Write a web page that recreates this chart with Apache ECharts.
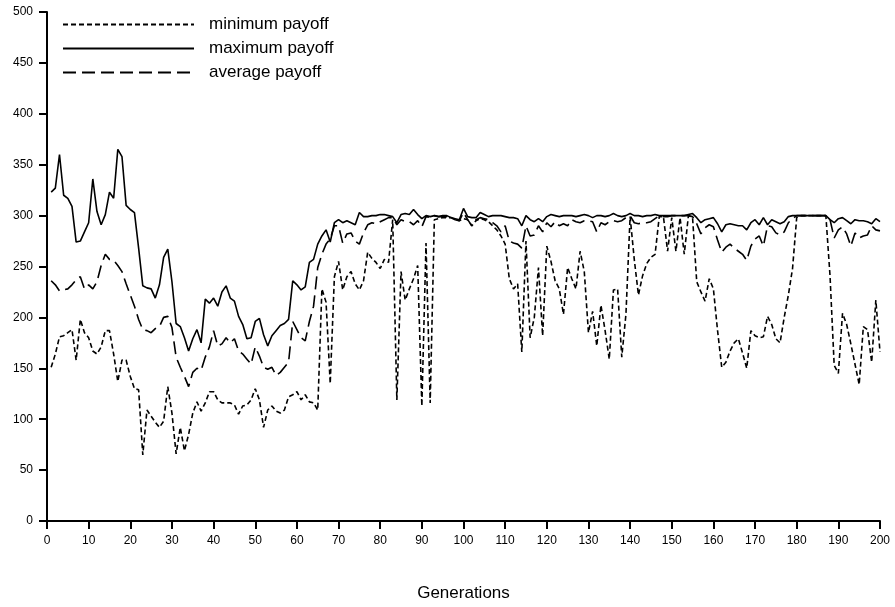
<!DOCTYPE html>
<html>
<head>
<meta charset="utf-8">
<script src="https://cdn.jsdelivr.net/npm/echarts@6/dist/echarts.min.js"></script>
<style>
  html, body { margin: 0; padding: 0; background: #fff; }
  #chart { width: 895px; height: 607px; }
</style>
</head>
<body>
<div id="chart"></div>
<script>
// payoff per generation, generations 1..200
const maxPayoff = [
  323, 327, 360, 320, 317, 309, 274, 275, 284, 293,
  336, 304, 291, 301, 323, 317, 365, 358, 310, 306,
  303, 268, 231, 229, 228, 219, 232, 259, 267, 235,
  194, 191, 180, 167, 179, 188, 175, 218, 214, 219,
  211, 225, 231, 219, 216, 201, 193, 179, 180, 196,
  199, 183, 172, 182, 187, 192, 194, 198, 236, 232,
  227, 230, 254, 257, 272, 280, 286, 274, 293, 296,
  293, 295, 293, 291, 303, 299, 299, 300, 300, 301,
  301, 300, 299, 293, 301, 302, 301, 306, 301, 297,
  300, 299, 300, 299, 300, 300, 298, 297, 296, 307,
  299, 298, 298, 303, 301, 299, 300, 300, 300, 299,
  298, 298, 297, 290, 300, 296, 294, 297, 294, 299,
  301, 300, 299, 300, 300, 300, 299, 300, 301, 300,
  298, 300, 300, 299, 300, 302, 300, 299, 300, 302,
  300, 300, 299, 300, 300, 301, 300, 300, 300, 300,
  300, 300, 300, 301, 302, 298, 293, 296, 297, 298,
  292, 284, 291, 292, 291, 290, 290, 286, 293, 296,
  291, 298, 291, 296, 294, 292, 294, 299, 300, 300,
  300, 300, 300, 300, 300, 300, 300, 296, 293, 297,
  298, 295, 292, 296, 295, 295, 294, 292, 297, 294
];
const avgPayoff = [
  236, 232, 226, 227, 228, 232, 237, 240, 228, 232,
  228, 235, 251, 262, 257, 256, 251, 245, 233, 222,
  211, 198, 188, 187, 185, 189, 191, 200, 201, 190,
  161, 151, 142, 132, 146, 150, 148, 161, 171, 187,
  172, 174, 180, 175, 179, 167, 164, 159, 154, 171,
  162, 151, 149, 151, 143, 146, 151, 156, 196, 188,
  180, 177, 196, 211, 249, 262, 272, 277, 290, 290,
  273, 282, 283, 275, 272, 283, 291, 293, 292, 294,
  296, 298, 298, 291, 296, 294, 294, 291, 295, 289,
  299, 298, 300, 299, 299, 299, 298, 296, 295, 303,
  296, 290, 296, 298, 297, 296, 293, 290, 284, 290,
  275, 273, 272, 268, 290, 280, 281, 290, 284, 293,
  289, 294, 290, 292, 290, 296, 294, 293, 295, 295,
  294, 284, 293, 291, 294, 295, 294, 295, 298, 300,
  293, 292, 293, 293, 294, 297, 300, 299, 299, 300,
  300, 300, 300, 300, 299, 292, 282, 288, 291, 289,
  276, 264, 269, 272, 268, 265, 262, 256, 270, 277,
  280, 270, 290, 289, 283, 281, 284, 293, 297, 300,
  300, 300, 300, 300, 300, 300, 300, 296, 278, 286,
  289, 282, 270, 283, 278, 280, 281, 290, 286, 285
];
const minPayoff = [
  151, 164, 181, 182, 185, 188, 158, 198, 185, 180,
  167, 164, 171, 187, 187, 164, 137, 158, 158, 142,
  130, 129, 65, 109, 103, 97, 92, 98, 132, 106,
  66, 92, 69, 85, 106, 117, 108, 116, 127, 127,
  119, 116, 116, 116, 114, 105, 113, 114, 119, 130,
  119, 92, 109, 113, 108, 106, 109, 122, 124, 127,
  119, 124, 117, 116, 109, 228, 215, 135, 240, 255,
  227, 240, 245, 233, 227, 236, 264, 258, 254, 248,
  257, 254, 296, 119, 245, 217, 228, 238, 251, 113,
  273, 116, 296, 297, 298, 298, 298, 296, 295, 297,
  296, 290, 295, 297, 296, 294, 290, 286, 280, 272,
  238, 228, 233, 166, 275, 180, 200, 249, 182, 270,
  255, 236, 228, 203, 249, 238, 228, 265, 245, 185,
  206, 172, 212, 187, 159, 227, 228, 161, 203, 299,
  257, 222, 241, 253, 259, 262, 299, 299, 265, 298,
  265, 298, 262, 300, 298, 235, 225, 216, 238, 228,
  187, 151, 156, 167, 175, 179, 165, 150, 187, 182,
  180, 181, 201, 193, 179, 175, 200, 222, 248, 298,
  300, 300, 300, 300, 300, 300, 300, 241, 153, 145,
  204, 193, 174, 154, 134, 191, 188, 156, 217, 166
];
const seriesNames = ['minimum payoff', 'maximum payoff', 'average payoff'];

// [generation, value] pairs, first generation is 1
function toPairs(values) {
  return values.map((v, i) => [i + 1, v]);
}

const font = 'Liberation Sans, Arial, sans-serif';
const chart = echarts.init(document.getElementById('chart'), null, { renderer: 'canvas' });

const axisCommon = {
  axisLine: { show: true, lineStyle: { color: '#000', width: 2 } },
  axisTick: { show: true, inside: false, length: 8, lineStyle: { color: '#000', width: 2 } },
  splitLine: { show: false },
  axisLabel: { color: '#000', fontSize: 12, fontFamily: font, margin: 14 }
};

const option = {
  animation: false,
  backgroundColor: '#fff',
  grid: { left: 47, right: 15, top: 12, bottom: 77, containLabel: false },
  legend: {
    orient: 'vertical',
    left: 57,
    top: 11,
    itemWidth: 131,
    itemHeight: 14,
    itemGap: 7,
    data: seriesNames,
    itemStyle: { opacity: 0 }, // hide the circle, keep the line sample
    textStyle: { color: '#000', fontSize: 17, fontFamily: font, padding: [0, 0, 0, 10] }
  },
  xAxis: Object.assign({}, axisCommon, {
    type: 'value',
    min: 0,
    max: 200,
    interval: 10,
    name: 'Generations',
    nameLocation: 'middle',
    nameGap: 64,
    nameTextStyle: { color: '#000', fontSize: 17, fontFamily: font }
  }),
  yAxis: Object.assign({}, axisCommon, {
    type: 'value',
    min: 0,
    max: 500,
    interval: 50
  }),
  series: [
    {
      name: seriesNames[0],
      type: 'line',
      data: toPairs(minPayoff),
      symbol: 'none',
      lineStyle: { color: '#000', width: 1.6, type: [5, 3] }
    },
    {
      name: seriesNames[1],
      type: 'line',
      data: toPairs(maxPayoff),
      symbol: 'none',
      lineStyle: { color: '#000', width: 1.6, type: 'solid' }
    },
    {
      name: seriesNames[2],
      type: 'line',
      data: toPairs(avgPayoff),
      symbol: 'none',
      lineStyle: { color: '#000', width: 1.6, type: [13, 6] }
    }
  ],
  color: ['#000', '#000', '#000']
};

chart.setOption(option);
</script>
</body>
</html>
